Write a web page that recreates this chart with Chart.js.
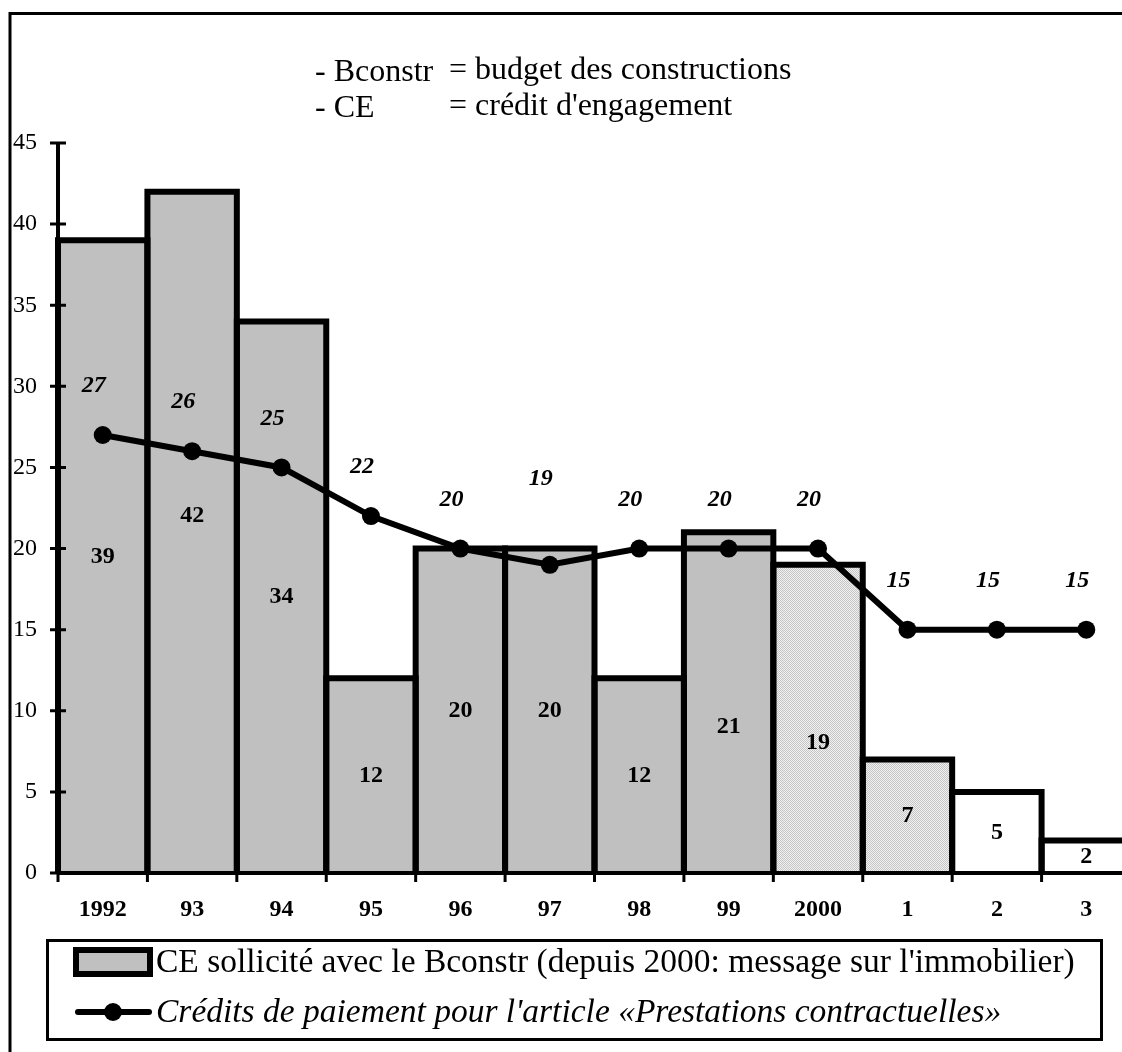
<!DOCTYPE html>
<html>
<head>
<meta charset="utf-8">
<script src="https://cdn.jsdelivr.net/npm/chart.js@4.4.1/dist/chart.umd.min.js"></script>
<style>
  html, body { margin: 0; padding: 0; background: #fff; overflow: hidden; }
  #wrap { width: 1150px; height: 1052px; }
</style>
</head>
<body>
<div id="wrap"><canvas id="chart" width="1150" height="1052"></canvas></div>
<script>
// ---------- data ----------
const CATEGORIES = ['1992', '93', '94', '95', '96', '97', '98', '99', '2000', '1', '2', '3'];
const CE_VALUES  = [39, 42, 34, 12, 20, 20, 12, 21, 19, 7, 5, 2];
const CP_VALUES  = [27, 26, 25, 22, 20, 19, 20, 20, 20, 15, 15, 15];
const Y_MIN = 0, Y_MAX = 45, Y_STEP = 5;

const CE_LABEL = "CE sollicité avec le Bconstr (depuis 2000: message sur l'immobilier)";
const CP_LABEL = "Crédits de paiement pour l'article «Prestations contractuelles»";
const NOTES = [
  ['- Bconstr', '= budget des constructions'],
  ['- CE', "= crédit d'engagement"]
];

// fill kind per bar: solid grey, stippled grey, blank
const FILL_KIND = ['solid', 'solid', 'solid', 'solid', 'solid', 'solid', 'solid', 'solid', 'dots', 'dots', 'blank', 'blank'];
// where the value sits inside each bar (axis units), mostly mid-height
const BAR_LABEL_AT = [19.5, 22, 17, 6, 10, 10, 6, 9, 8, 3.5, 2.5, 1];

// ---------- styles ----------
const SERIF = "'Liberation Serif', 'Times New Roman', serif";
const GREY = '#c0c0c0';

const makeDots = () => {
  const c = document.createElement('canvas');
  c.width = 2; c.height = 2;
  const x = c.getContext('2d');
  x.fillStyle = '#f0f0f0'; x.fillRect(0, 0, 2, 2);
  x.fillStyle = '#c6c6c6'; x.fillRect(0, 0, 1, 1); x.fillRect(1, 1, 1, 1);
  return x.createPattern(c, 'repeat');
};

const canvas = document.getElementById('chart');
const ctx = canvas.getContext('2d');
const DOTS = makeDots();
const barFill = FILL_KIND.map(k => k === 'solid' ? GREY : k === 'dots' ? DOTS : '#ffffff');

// ---------- plugins ----------
const paper = {
  id: 'paper',
  beforeDraw(chart) {
    const c = chart.ctx;
    c.save();
    c.fillStyle = '#fff';
    c.fillRect(0, 0, chart.width, chart.height);
    c.strokeStyle = '#000';
    c.lineWidth = 3;
    c.beginPath();
    c.moveTo(10, chart.height + 5);
    c.lineTo(10, 13.5);
    c.lineTo(chart.width + 5, 13.5);
    c.stroke();

    c.fillStyle = '#000';
    c.font = `32px ${SERIF}`;
    c.textBaseline = 'middle';
    NOTES.forEach(([a, b], i) => {
      c.fillText(a, 315, 73 + i * 36);
      c.fillText(b, 449, 71 + i * 36);
    });
    c.restore();
  }
};

// thick outline centred on each bar edge, so shared edges stay one line
const barOutline = {
  id: 'barOutline',
  afterDatasetDraw(chart, args) {
    if (args.index !== 0) return;
    const c = chart.ctx;
    c.save();
    c.strokeStyle = '#000';
    c.lineWidth = 6;
    c.lineJoin = 'miter';
    args.meta.data.forEach(el => {
      const { x, y, base, width } = el.getProps(['x', 'y', 'base', 'width'], true);
      c.beginPath();
      c.moveTo(x - width / 2, base);
      c.lineTo(x - width / 2, y);
      c.lineTo(x + width / 2, y);
      c.lineTo(x + width / 2, base);
      c.stroke();
    });
    c.restore();
  }
};

const axesAndLabels = {
  id: 'axesAndLabels',
  afterDatasetsDraw(chart) {
    const c = chart.ctx;
    const ys = chart.scales.y;
    const area = chart.chartArea;
    c.save();
    c.strokeStyle = '#000';
    c.lineCap = 'butt';

    // y axis with crossing ticks
    c.lineWidth = 4;
    c.beginPath();
    c.moveTo(area.left, ys.getPixelForValue(Y_MAX));
    c.lineTo(area.left, ys.getPixelForValue(Y_MIN));
    c.stroke();
    c.lineWidth = 3;
    c.beginPath();
    for (let v = Y_MIN; v <= Y_MAX; v += Y_STEP) {
      const y = ys.getPixelForValue(v);
      c.moveTo(area.left - 8, y);
      c.lineTo(area.left + 8, y);
    }
    c.stroke();

    // x axis with ticks between categories
    c.lineWidth = 4;
    c.beginPath();
    c.moveTo(area.left, area.bottom);
    c.lineTo(area.right, area.bottom);
    c.stroke();
    const step = (area.right - area.left) / CATEGORIES.length;
    c.lineWidth = 3;
    c.beginPath();
    for (let i = 0; i <= CATEGORIES.length; i++) {
      const x = area.left + i * step;
      c.moveTo(x, area.bottom);
      c.lineTo(x, area.bottom + 9);
    }
    c.stroke();

    // bar values
    c.fillStyle = '#000';
    c.textAlign = 'center';
    c.textBaseline = 'middle';
    c.font = `bold 24px ${SERIF}`;
    const barMeta = chart.getDatasetMeta(0);
    CE_VALUES.forEach((v, i) => {
      const el = barMeta.data[i];
      c.fillText(String(v), el.x, ys.getPixelForValue(BAR_LABEL_AT[i]));
    });

    // line values above the points
    c.font = `italic bold 24px ${SERIF}`;
    const lineMeta = chart.getDatasetMeta(1);
    CP_VALUES.forEach((v, i) => {
      const el = lineMeta.data[i];
      const lift = i === 5 ? 86 : 49;
      c.fillText(String(v), el.x - 9, el.y - lift);
    });
    c.restore();
  }
};

const boxLegend = {
  id: 'boxLegend',
  afterDraw(chart) {
    const c = chart.ctx;
    c.save();
    c.strokeStyle = '#000';
    c.lineWidth = 3;
    c.strokeRect(47.5, 940.5, 1054, 99);

    // bar swatch
    c.fillStyle = GREY;
    c.fillRect(76, 950, 74, 24);
    c.lineWidth = 6;
    c.strokeRect(76, 950, 74, 24);

    // line swatch
    c.lineWidth = 6;
    c.lineCap = 'round';
    c.beginPath();
    c.moveTo(78, 1012);
    c.lineTo(149, 1012);
    c.stroke();
    c.fillStyle = '#000';
    c.beginPath();
    c.arc(113, 1012, 9, 0, Math.PI * 2);
    c.fill();

    c.textBaseline = 'middle';
    c.textAlign = 'left';
    c.font = `33.5px ${SERIF}`;
    c.fillText(CE_LABEL, 156, 963);
    c.font = `italic 33.5px ${SERIF}`;
    c.fillText(CP_LABEL, 156, 1013);
    c.restore();
  }
};

// ---------- chart ----------
new Chart(ctx, {
  data: {
    labels: CATEGORIES,
    datasets: [
      {
        type: 'bar',
        label: CE_LABEL,
        data: CE_VALUES,
        backgroundColor: barFill,
        borderWidth: 0,
        barPercentage: 1,
        categoryPercentage: 1,
        order: 2
      },
      {
        type: 'line',
        label: CP_LABEL,
        data: CP_VALUES,
        borderColor: '#000',
        backgroundColor: '#000',
        borderWidth: 6,
        pointRadius: 9,
        pointBackgroundColor: '#000',
        pointBorderWidth: 0,
        tension: 0,
        order: 1
      }
    ]
  },
  options: {
    responsive: false,
    animation: false,
    layout: { padding: { left: 0, top: 143, right: 19, bottom: 119 } },
    plugins: { legend: { display: false }, tooltip: { enabled: false } },
    scales: {
      x: {
        grid: { display: false },
        border: { display: false },
        ticks: {
          color: '#000',
          font: { family: SERIF, size: 24, weight: 'bold' },
          padding: 14,
          maxRotation: 0,
          autoSkip: false
        },
        afterFit(scale) { scale.height = 60; }
      },
      y: {
        min: Y_MIN,
        max: Y_MAX,
        grid: { display: false },
        border: { display: false },
        ticks: {
          stepSize: Y_STEP,
          color: '#000',
          font: { family: SERIF, size: 24 },
          padding: 13
        },
        afterFit(scale) { scale.width = 58; }
      }
    }
  },
  plugins: [paper, barOutline, axesAndLabels, boxLegend]
});
</script>
</body>
</html>
